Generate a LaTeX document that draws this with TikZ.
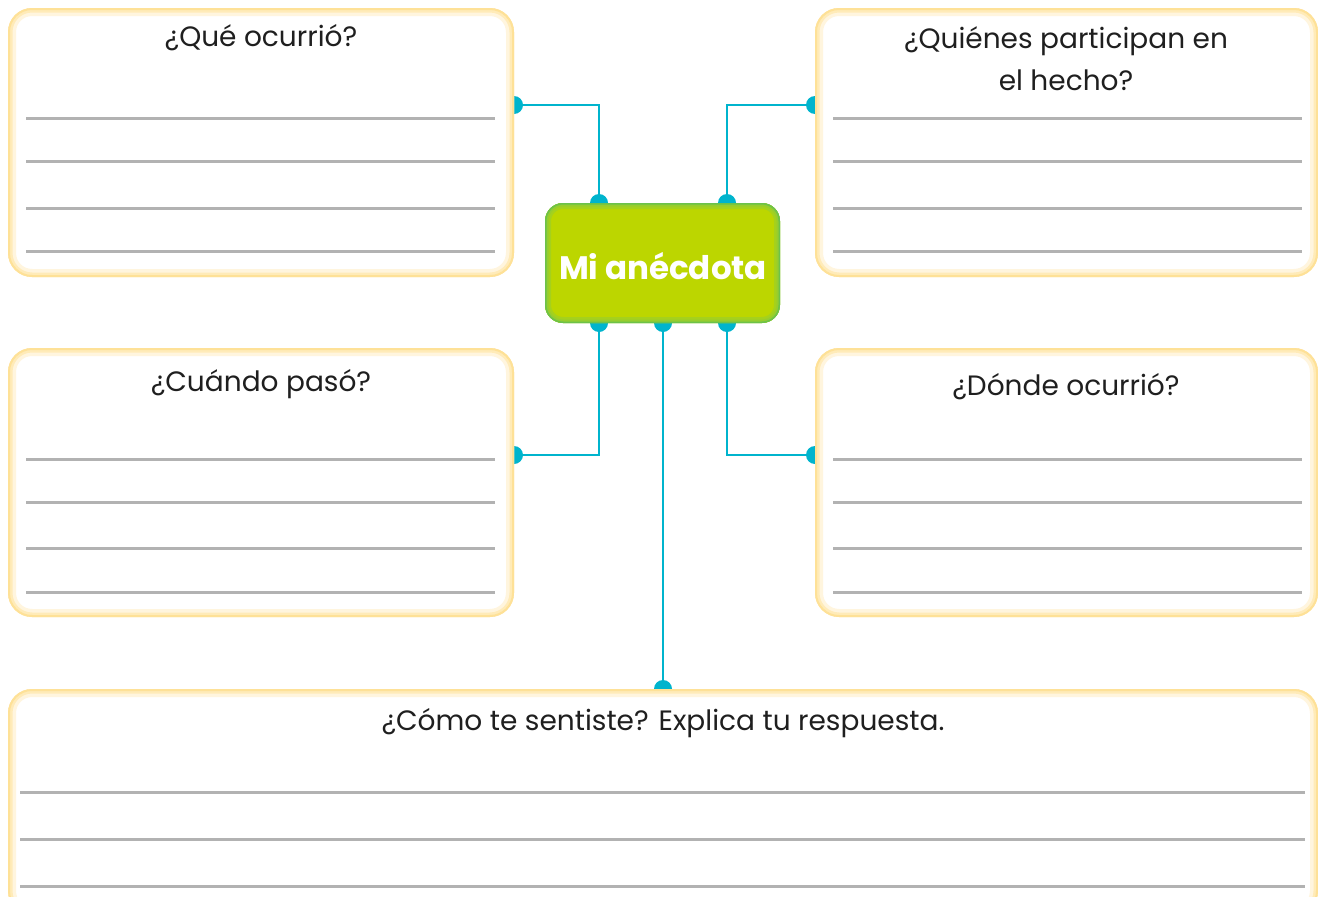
\documentclass[tikz,border=0pt]{standalone}
\usepackage{fontspec}
\setmainfont{Poppins}
\usetikzlibrary{fit}
\definecolor{cyanline}{HTML}{00B4CD}
\definecolor{ruleg}{HTML}{B2B2B2}
\definecolor{yA}{HTML}{FEE197}
\definecolor{yB}{HTML}{FFEBB8}
\definecolor{yC}{HTML}{FFF5DE}
\definecolor{gFill}{HTML}{BCD600}
\definecolor{gA}{HTML}{6CC24A}
\definecolor{gB}{HTML}{96CD2E}
\tikzset{
  frame/.style={inner sep=0pt, outer sep=0pt},
  title/.style={font=\fontsize{28}{42}\selectfont, text=black!88, align=center},
  wline/.style={ruleg, line width=3pt},
  conn/.style={cyanline, line width=2.6pt},
  dotc/.style={fill=cyanline, draw=none},
}
\newcommand{\glowframe}[1]{%
  \begin{scope}
    \path[clip, rounded corners=24pt] (#1.north west) rectangle (#1.south east);
    \fill[white] (#1.north west) rectangle (#1.south east);
    \draw[yC, line width=16pt, rounded corners=24pt] (#1.north west) rectangle (#1.south east);
    \draw[yB, line width=9pt, rounded corners=24pt] (#1.north west) rectangle (#1.south east);
    \draw[yA, line width=4pt, rounded corners=24pt] (#1.north west) rectangle (#1.south east);
  \end{scope}}
\begin{document}
\begin{tikzpicture}[x=1pt,y=-1pt]
\useasboundingbox (0,0) rectangle (1318,897);
% frame corners
\coordinate (q1a) at (8,8);     \coordinate (q1b) at (514,277);
\coordinate (q2a) at (815,8);   \coordinate (q2b) at (1318,277);
\coordinate (q3a) at (8,348);   \coordinate (q3b) at (514,617);
\coordinate (q4a) at (815,348); \coordinate (q4b) at (1318,617);
\coordinate (q5a) at (8,689);   \coordinate (q5b) at (1318,915);
\coordinate (ca) at (545,203);  \coordinate (cb) at (780,323);
\node[frame, fit=(q1a)(q1b)] (q1) {};
\node[frame, fit=(q2a)(q2b)] (q2) {};
\node[frame, fit=(q3a)(q3b)] (q3) {};
\node[frame, fit=(q4a)(q4b)] (q4) {};
\node[frame, fit=(q5a)(q5b)] (q5) {};
\node[frame, fit=(ca)(cb)] (c) {};
% connector end points
\coordinate (t1) at (599,203); \coordinate (t2) at (727,203);
\coordinate (b1) at (599,323); \coordinate (b2) at (663,323); \coordinate (b3) at (727,323);
\coordinate (e1) at (514,105); \coordinate (e2) at (815,105);
\coordinate (e3) at (514,455); \coordinate (e4) at (815,455);
\coordinate (e5) at (663,689);
% connectors
\draw[conn] (t1) |- (e1);
\draw[conn] (t2) |- (e2);
\draw[conn] (b1) |- (e3);
\draw[conn] (b3) |- (e4);
\draw[conn] (b2) -- (e5);
\foreach \p in {t1,t2,b1,b2,b3,e1,e2,e3,e4,e5} \fill[dotc] (\p) circle (9pt);
% frames
\foreach \f in {q1,q2,q3,q4,q5} \glowframe{\f};
% central box
\begin{scope}
  \path[clip, rounded corners=18pt] (c.north west) rectangle (c.south east);
  \fill[gFill] (c.north west) rectangle (c.south east);
  \draw[gB!60!gFill, line width=12pt, rounded corners=18pt] (c.north west) rectangle (c.south east);
  \draw[gB, line width=7pt, rounded corners=18pt] (c.north west) rectangle (c.south east);
  \draw[gA, line width=3pt, rounded corners=18pt] (c.north west) rectangle (c.south east);
\end{scope}
\node[font=\fontsize{32.5}{38}\selectfont\bfseries, text=white] (ct) at (663,266) {Mi anécdota};
% titles
\node[title] (h1) at (261,38) {¿Qué ocurrió?};
\node[title] (h2) at (1066,59) {¿Quiénes participan en\\el hecho?};
\node[title] (h3) at (261,384) {¿Cuándo pasó?};
\node[title] (h4) at (1066,387) {¿Dónde ocurrió?};
\node[title] (h5) at (663,723) {¿Cómo te sentiste? Explica tu respuesta.};
% writing lines
\foreach \y in {118,161,208,251} {
  \draw[wline] (26,\y) -- (495,\y);
  \draw[wline] (833,\y) -- (1302,\y);
}
\foreach \y in {459,502,548,592} {
  \draw[wline] (26,\y) -- (495,\y);
  \draw[wline] (833,\y) -- (1302,\y);
}
\foreach \y in {792,839,886} \draw[wline] (20,\y) -- (1305,\y);
\end{tikzpicture}
\end{document}
